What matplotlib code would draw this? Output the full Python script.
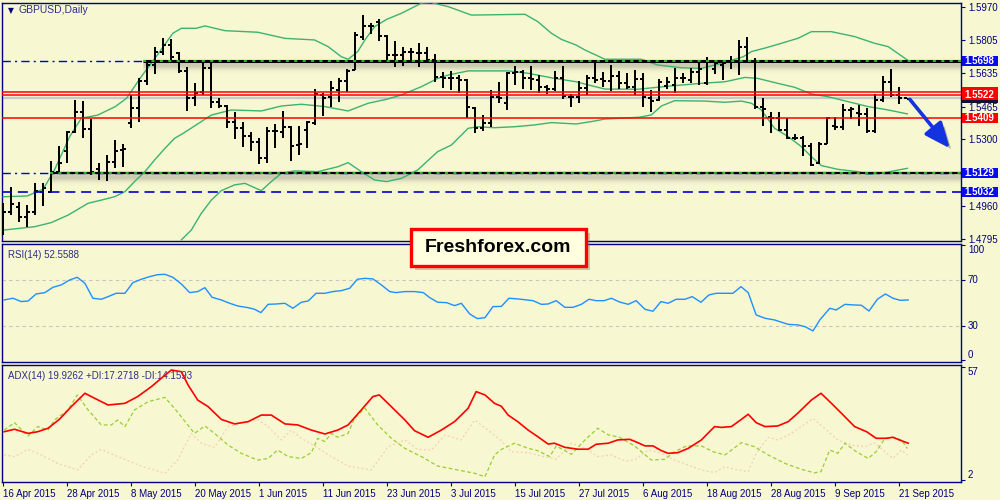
import numpy as np
import matplotlib
matplotlib.use('Agg')
import matplotlib.pyplot as plt
import matplotlib.transforms as mtrans
import matplotlib.patheffects as pe
from matplotlib.collections import LineCollection
from matplotlib.patches import Rectangle

plt.rcParams['font.family'] = ['Liberation Sans', 'DejaVu Sans']

# ---------------- data ----------------
symbol_title = 'GBPUSD,Daily'
date_labels = ['16 Apr 2015', '28 Apr 2015', '8 May 2015', '20 May 2015', '1 Jun 2015',
               '11 Jun 2015', '23 Jun 2015', '3 Jul 2015', '15 Jul 2015', '27 Jul 2015',
               '6 Aug 2015', '18 Aug 2015', '28 Aug 2015', '9 Sep 2015', '21 Sep 2015']
date_bars = [0, 8, 16, 24, 32, 40, 48, 56, 64, 72, 80, 88, 96, 104, 112]

opens = [1.4890, 1.4932, 1.4958, 1.4907, 1.4929, 1.5034, 1.5034, 1.5135, 1.5240, 1.5338,
         1.5436, 1.5351, 1.5147, 1.5130, 1.5182, 1.5245, 1.5380, 1.5456, 1.5595, 1.5676,
         1.5740, 1.5777, 1.5735, 1.5647, 1.5510, 1.5541, 1.5659, 1.5487, 1.5468, 1.5385,
         1.5355, 1.5316, 1.5287, 1.5203, 1.5343, 1.5335, 1.5363, 1.5270, 1.5346, 1.5380,
         1.5524, 1.5515, 1.5549, 1.5595, 1.5651, 1.5820, 1.5875, 1.5896, 1.5825, 1.5727,
         1.5727, 1.5740, 1.5735, 1.5735, 1.5701, 1.5613, 1.5612, 1.5608, 1.5600, 1.5456,
         1.5358, 1.5380, 1.5515, 1.5482, 1.5637, 1.5642, 1.5608, 1.5600, 1.5563, 1.5553,
         1.5608, 1.5515, 1.5515, 1.5558, 1.5608, 1.5603, 1.5597, 1.5620, 1.5583, 1.5563,
         1.5603, 1.5507, 1.5499, 1.5570, 1.5575, 1.5608, 1.5600, 1.5642, 1.5583, 1.5656,
         1.5676, 1.5693, 1.5693, 1.5769, 1.5690, 1.5465, 1.5411, 1.5406, 1.5346, 1.5308,
         1.5308, 1.5267, 1.5177, 1.5275, 1.5367, 1.5363, 1.5448, 1.5431, 1.5428, 1.5341,
         1.5499, 1.5588, 1.5524, 1.5507]
highs = [1.4975, 1.5056, 1.4983, 1.4966, 1.5079, 1.5076, 1.5189, 1.5267, 1.5341, 1.5499,
         1.5493, 1.5402, 1.5177, 1.5220, 1.5296, 1.5275, 1.5524, 1.5608, 1.5684, 1.5766,
         1.5811, 1.5806, 1.5740, 1.5668, 1.5583, 1.5693, 1.5693, 1.5507, 1.5473, 1.5436,
         1.5385, 1.5338, 1.5308, 1.5363, 1.5375, 1.5443, 1.5367, 1.5368, 1.5392, 1.5553,
         1.5532, 1.5595, 1.5612, 1.5654, 1.5842, 1.5929, 1.5891, 1.5909, 1.5828, 1.5798,
         1.5766, 1.5760, 1.5786, 1.5766, 1.5730, 1.5642, 1.5646, 1.5625, 1.5603, 1.5465,
         1.5422, 1.5549, 1.5591, 1.5642, 1.5673, 1.5651, 1.5671, 1.5625, 1.5575, 1.5646,
         1.5671, 1.5527, 1.5595, 1.5625, 1.5688, 1.5642, 1.5676, 1.5646, 1.5634, 1.5651,
         1.5637, 1.5549, 1.5605, 1.5617, 1.5659, 1.5637, 1.5662, 1.5698, 1.5715, 1.5701,
         1.5696, 1.5722, 1.5803, 1.5816, 1.5710, 1.5507, 1.5436, 1.5436, 1.5409, 1.5324,
         1.5316, 1.5282, 1.5287, 1.5411, 1.5411, 1.5478, 1.5465, 1.5473, 1.5456, 1.5527,
         1.5622, 1.5656, 1.5563, 1.5507]
lows = [1.4814, 1.4915, 1.4882, 1.4856, 1.4915, 1.4961, 1.5029, 1.5132, 1.5177, 1.5330,
        1.5304, 1.5118, 1.5093, 1.5090, 1.5155, 1.5160, 1.5355, 1.5389, 1.5575, 1.5630,
        1.5727, 1.5696, 1.5637, 1.5444, 1.5468, 1.5524, 1.5456, 1.5456, 1.5355, 1.5299,
        1.5259, 1.5240, 1.5172, 1.5177, 1.5253, 1.5308, 1.5191, 1.5220, 1.5257, 1.5372,
        1.5419, 1.5465, 1.5487, 1.5541, 1.5651, 1.5803, 1.5833, 1.5799, 1.5693, 1.5664,
        1.5673, 1.5698, 1.5664, 1.5690, 1.5588, 1.5561, 1.5549, 1.5532, 1.5409, 1.5330,
        1.5343, 1.5360, 1.5482, 1.5448, 1.5575, 1.5554, 1.5549, 1.5532, 1.5527, 1.5546,
        1.5504, 1.5465, 1.5485, 1.5524, 1.5586, 1.5566, 1.5546, 1.5553, 1.5553, 1.5524,
        1.5465, 1.5439, 1.5493, 1.5553, 1.5532, 1.5583, 1.5586, 1.5575, 1.5575, 1.5630,
        1.5600, 1.5654, 1.5625, 1.5690, 1.5451, 1.5368, 1.5333, 1.5341, 1.5299, 1.5296,
        1.5216, 1.5164, 1.5172, 1.5274, 1.5346, 1.5346, 1.5402, 1.5368, 1.5330, 1.5330,
        1.5490, 1.5515, 1.5478, 1.5502]
closes = [1.4932, 1.4971, 1.4907, 1.4929, 1.5039, 1.5051, 1.5135, 1.5181, 1.5338, 1.5436,
          1.5351, 1.5135, 1.5130, 1.5182, 1.5240, 1.5250, 1.5456, 1.5597, 1.5676, 1.5740,
          1.5777, 1.5718, 1.5647, 1.5507, 1.5536, 1.5659, 1.5487, 1.5468, 1.5385, 1.5355,
          1.5316, 1.5287, 1.5206, 1.5343, 1.5341, 1.5363, 1.5267, 1.5275, 1.5385, 1.5527,
          1.5510, 1.5558, 1.5595, 1.5647, 1.5828, 1.5874, 1.5875, 1.5825, 1.5727, 1.5727,
          1.5740, 1.5744, 1.5735, 1.5701, 1.5613, 1.5612, 1.5608, 1.5600, 1.5461, 1.5358,
          1.5380, 1.5515, 1.5507, 1.5637, 1.5639, 1.5608, 1.5605, 1.5563, 1.5553, 1.5608,
          1.5519, 1.5515, 1.5558, 1.5608, 1.5600, 1.5597, 1.5620, 1.5583, 1.5563, 1.5603,
          1.5512, 1.5495, 1.5591, 1.5591, 1.5608, 1.5608, 1.5642, 1.5656, 1.5693, 1.5684,
          1.5688, 1.5693, 1.5769, 1.5690, 1.5465, 1.5453, 1.5406, 1.5346, 1.5308, 1.5308,
          1.5267, 1.5169, 1.5275, 1.5406, 1.5363, 1.5448, 1.5451, 1.5428, 1.5341, 1.5499,
          1.5588, 1.5524, 1.5507, 1.5504]

# Bollinger bands (x = bar index)
bb_up_x = [0, 3, 5, 6.4, 8.3, 9.75, 11.8, 14, 15.4, 17.25, 19.1, 21.2, 22.25, 24.1, 25.2,
           27.7, 31.8, 35.2, 38.9, 40.6, 42.25, 43.1, 44.3, 45.2, 46.4, 47.9, 49.75, 52.25,
           53.5, 55.6, 58.5, 61.8, 65.2, 66.8, 68.5, 69.75, 71.6, 72.7, 75.2, 79.75, 81.8,
           84.75, 87.25, 89.75, 92.5, 93.5, 95.4, 97.25, 99.3, 101, 103.5, 106.4, 108.9,
           110.6, 111.8, 113]
bb_up = [1.5008, 1.5012, 1.5047, 1.5144, 1.5313, 1.5406, 1.5422, 1.5465, 1.5507, 1.5617,
         1.5718, 1.5837, 1.5862, 1.5862, 1.5874, 1.5850, 1.5842, 1.5811, 1.5803, 1.5769,
         1.5718, 1.5705, 1.5744, 1.5803, 1.5870, 1.5907, 1.5938, 1.5989, 1.5992, 1.5972,
         1.5929, 1.5931, 1.5933, 1.5896, 1.5837, 1.5806, 1.5777, 1.5752, 1.5705, 1.5705,
         1.5676, 1.5662, 1.5659, 1.5684, 1.5718, 1.5744, 1.5764, 1.5786, 1.5811, 1.5845,
         1.5845, 1.5820, 1.5786, 1.5769, 1.5735, 1.5701]
bb_mid_x = [0, 3.9, 6, 8.1, 10.6, 12.25, 13.9, 15.2, 16.4, 17.7, 18.9, 20.2, 21.4, 22.5,
            24.1, 26, 28.5, 32.25, 34.75, 37.25, 40.2, 43.1, 45.6, 47.9, 49.75, 52.25, 54.3,
            55.6, 58.1, 63.1, 65.6, 68.9, 71.6, 73.1, 75.2, 79.3, 83.5, 87.25, 90.2, 92.7,
            94.3, 96.8, 98.9, 101, 103.1, 105.6, 108.1, 110.6, 113]
bb_mid = [1.4839, 1.4856, 1.4877, 1.4915, 1.4975, 1.4991, 1.5008, 1.5034, 1.5085, 1.5135,
          1.5194, 1.5253, 1.5304, 1.5330, 1.5372, 1.5422, 1.5448, 1.5443, 1.5468, 1.5477,
          1.5465, 1.5443, 1.5482, 1.5502, 1.5524, 1.5566, 1.5608, 1.5625, 1.5646, 1.5646,
          1.5634, 1.5608, 1.5591, 1.5575, 1.5554, 1.5553, 1.5570, 1.5583, 1.5591, 1.5613,
          1.5608, 1.5583, 1.5563, 1.5529, 1.5515, 1.5490, 1.5465, 1.5448, 1.5428]
bb_low_x = [22.25, 23.5, 24.75, 26, 27.25, 28.9, 30.2, 32.25, 33.5, 34.75, 36.4, 39.3, 41.8,
            43.1, 44.75, 46.4, 47.9, 49.75, 51.8, 54.3, 56, 58.1, 59.3, 61.4, 63.9, 66.4,
            68.5, 71.6, 73.5, 75.2, 79.5, 81, 82.25, 83.9, 87.7, 90.2, 92.25, 93.5, 94.75,
            96.4, 98.1, 99.75, 101, 102.25, 104.3, 106.8, 108.1, 109.75, 111.4, 113]
bb_low = [1.4789, 1.4839, 1.4924, 1.4991, 1.5039, 1.5068, 1.5076, 1.5039, 1.5085, 1.5127,
          1.5139, 1.5135, 1.5160, 1.5181, 1.5135, 1.5093, 1.5085, 1.5101, 1.5144, 1.5237,
          1.5270, 1.5355, 1.5363, 1.5358, 1.5363, 1.5372, 1.5384, 1.5377, 1.5389, 1.5402,
          1.5411, 1.5423, 1.5468, 1.5495, 1.5493, 1.5487, 1.5493, 1.5482, 1.5448, 1.5355,
          1.5313, 1.5262, 1.5211, 1.5166, 1.5147, 1.5135, 1.5123, 1.5127, 1.5140, 1.5152]

# horizontal levels
resistance = 1.5698
support = 1.5129
lower_level = 1.5032
red_levels = [1.5539, 1.5522, 1.5409]
bid = 1.5507
resistance_from_bar = 17.5
support_from_bar = 5.8
arrow_from = (113.3, 1.5502)
arrow_to = (118.3, 1.5254)
price_ticks = [1.5970, 1.5805, 1.5635, 1.5465, 1.5300, 1.4960, 1.4795]

# RSI(14)
rsi_x = [0.1, 1.2, 2.25, 3.1, 4.1, 5.2, 6.2, 7.25, 8.3, 9.25, 10.2, 11.2, 12.25, 13.1, 14.1,
         15.2, 16.2, 17.25, 18.3, 19.3, 20.2, 21.2, 22.25, 23.3, 24.3, 25.2, 26.1, 27.25,
         28.3, 29.3, 30.6, 31.4, 32.2, 33.1, 34.1, 35.2, 36.2, 37.25, 38.1, 39.1, 40.2, 41.2,
         42.25, 43.3, 44.25, 45.2, 46.2, 47.25, 48.3, 49.1, 50.2, 51.4, 52.5, 53.3, 54.3,
         55.4, 56.4, 57.25, 58.3, 59.25, 60.2, 61.2, 62.25, 63.2, 64.3, 66.2, 67.25, 68.1,
         69.1, 70.2, 71.2, 72.25, 73.2, 74.1, 75.1, 76, 77, 78.1, 79.1, 80.2, 81.2, 82.2,
         83.1, 84.1, 85.2, 86.1, 87.2, 88.2, 89.1, 91.2, 92.2, 93.1, 94.1, 95.2, 96.4, 98.1,
         99.3, 100.2, 101.2, 102.05, 103.3, 104.1, 105.2, 106.2, 107.25, 108.2, 109.25,
         110.25, 111.2, 112.1, 113.1]
rsi = [52.6, 54.1, 51.2, 51.7, 57.8, 59.0, 63.6, 65.7, 70.0, 72.3, 67.1, 54.1, 53.2, 55.5,
       58.4, 58.4, 67.7, 70.6, 72.9, 74.6, 74.9, 72.3, 66.5, 59.0, 59.9, 63.3, 54.9, 52.6,
       49.7, 47.4, 45.9, 44.5, 41.6, 48.8, 49.1, 49.7, 45.4, 50.6, 51.7, 58.4, 58.4, 59.9,
       60.7, 62.8, 70.6, 71.4, 70.9, 65.7, 59.9, 59.0, 59.9, 59.9, 59.0, 54.6, 50.6, 50.3,
       47.7, 49.7, 40.4, 36.4, 37.2, 46.8, 47.0, 54.1, 53.5, 52.0, 48.8, 49.1, 52.0, 46.2,
       46.2, 48.8, 53.2, 52.0, 52.0, 54.1, 50.9, 48.8, 52.0, 44.5, 42.8, 51.2, 49.7, 53.2,
       53.2, 55.5, 50.6, 57.0, 58.4, 58.4, 64.2, 59.0, 39.6, 36.7, 35.2, 31.4, 30.9, 29.4,
       25.7, 35.2, 45.4, 43.9, 48.8, 48.3, 48.0, 43.0, 53.2, 57.8, 54.1, 52.3, 52.6]

# ADX(14), +DI, -DI
adx_x = [0.1, 1.4, 3.1, 4.3, 5.6, 7.0, 8.5, 10.2, 11.4, 13.1, 15.2, 16.8, 18.5, 19.75, 21,
         22.25, 23.1, 24.3, 25.6, 27.25, 28.9, 30.6, 32.25, 33.5, 35.2, 36.8, 38.5, 40.2,
         41.8, 43.1, 44.75, 46.2, 47.0, 48.5, 50.2, 51.4, 53.1, 54.75, 56.4, 58.1, 59.1, 60.2,
         61.4, 62.25, 63.1, 64.3, 65.6, 66.8, 68.1, 68.9, 70.2, 71.8, 73.1, 74.1, 75.6, 76.8,
         78.3, 79.3, 80.2, 81.2, 82.25, 83.1, 84.3, 85.6, 87.25, 88.9, 89.75, 91, 92.25, 93.1,
         94.1, 95.2, 96.8, 98.1, 99.3, 101, 102.2, 103.3, 104.75, 106.4, 107.9, 109.1, 110.4,
         111.2, 112.0, 113.1]
adx = [25.5, 26.7, 24.7, 25.5, 27.2, 31.5, 37.7, 44.2, 41.8, 38.5, 39.3, 42.6, 47.4, 51.5,
       55.5, 54.7, 48.2, 40.9, 37.7, 31.5, 29.3, 30.4, 33.6, 33.6, 29.3, 28.8, 26.3, 24.4,
       26.3, 28.8, 36.1, 42.6, 43.4, 37.7, 31.2, 26.0, 22.8, 26.3, 30.4, 36.9, 45.0, 43.4,
       39.3, 37.9, 33.6, 30.4, 26.3, 23.1, 19.5, 19.9, 17.9, 17.0, 17.0, 19.4, 19.9, 21.5,
       21.8, 20.2, 18.6, 18.6, 16.3, 15.0, 15.3, 17.4, 21.5, 28.0, 27.6, 28.0, 31.5, 34.0,
       29.9, 28.0, 28.3, 30.4, 34.5, 40.9, 44.2, 40.1, 34.5, 28.0, 25.5, 22.3, 22.3, 22.8,
       21.5, 19.9]
pdi_x = [0.1, 1.4, 3.1, 4.3, 5.6, 6.4, 8.1, 9.25, 10.6, 12.25, 13.5, 14.3, 15.2, 16.4, 18.1,
         20.2, 21.4, 23.9, 25.2, 26.4, 28.1, 29.75, 31.8, 33.1, 34.3, 35.6, 37.25, 38.5, 39.3,
         40.2, 41.0, 41.8, 43.1, 43.9, 45.2, 46.8, 48.5, 50.2, 52.25, 54.3, 56.8, 58.9, 60.2,
         61.4, 62.25, 63.9, 65.6, 66.8, 68.3, 69.1, 71, 72.7, 74.3, 75.6, 77.0, 78.9, 81.0,
         82.7, 83.9, 85.4, 87.25, 88.7, 90.2, 92.25, 93.9, 95.6, 97.7, 99.75, 101.4, 102.2,
         103.3, 104.3, 105.2, 106.6, 108.1, 109.1, 110.2, 111.2, 112.25, 113]
pdi = [26.3, 29.9, 23.4, 28.0, 26.3, 31.2, 36.1, 43.4, 36.1, 28.8, 28.8, 31.2, 28.0, 36.1,
       40.1, 42.2, 36.9, 24.7, 28.3, 24.7, 19.0, 15.0, 11.7, 12.5, 16.6, 13.4, 12.5, 15.3,
       22.3, 20.7, 24.7, 22.8, 24.7, 32.0, 36.9, 28.8, 22.3, 17.4, 13.4, 8.8, 6.9, 5.3, 3.6,
       14.2, 16.9, 19.9, 17.4, 16.3, 13.4, 18.6, 14.5, 21.5, 27.2, 24.0, 22.8, 18.6, 11.7,
       12.1, 15.8, 18.6, 18.6, 15.8, 14.2, 20.2, 18.2, 14.2, 10.1, 7.2, 5.5, 6.1, 16.6, 15.0,
       19.9, 15.8, 12.5, 15.8, 22.3, 22.8, 21.5, 17.3]
mdi_x = [0.1, 1.4, 3.1, 4.75, 6.8, 9.3, 11.0, 12.25, 14.3, 17.25, 20.2, 21.8, 23.5, 24.75,
         26.4, 28.1, 29.75, 31.8, 33.1, 34.75, 36.0, 37.25, 38.9, 41.0, 43.1, 46.0, 48.1, 50.2,
         51.8, 53.5, 55.2, 57.25, 58.9, 60.6, 62.25, 63.5, 65.6, 67.25, 69.1, 71, 72.7, 74.3,
         76, 77.7, 78.9, 80.6, 82.25, 83.9, 85.6, 87.25, 88.9, 90.2, 91.4, 93.1, 94.1, 95.6,
         96.8, 98.5, 99.75, 101.2, 102.9, 104.3, 106.0, 107.7, 108.9, 110.2, 111.2, 112.25, 113]
mdi = [14.2, 13.4, 16.9, 14.2, 10.1, 6.9, 14.2, 16.9, 13.4, 8.8, 5.3, 11.7, 24.7, 19.9, 17.9,
       28.0, 29.6, 31.5, 28.0, 21.5, 26.3, 22.3, 18.6, 13.4, 8.8, 6.9, 18.2, 21.5, 16.9, 16.6,
       23.9, 21.5, 31.2, 26.3, 21.1, 15.8, 15.3, 13.7, 12.1, 19.9, 17.4, 13.4, 14.2, 11.3,
       11.7, 16.6, 15.0, 11.7, 9.3, 6.9, 5.6, 8.5, 7.2, 6.1, 15.0, 22.8, 21.5, 24.7, 28.0,
       32.0, 26.3, 21.5, 19.0, 18.2, 20.2, 15.8, 12.5, 16.6, 14.2]

rsi_title = 'RSI(14) 52.5588'
adx_title = 'ADX(14) 19.9262 +DI:17.2718 -DI:14.1593'
logo_text = 'Freshforex.com'

# ---------------- style ----------------
BG = '#F7F7D2'
NAVY = '#000080'
TXT = '#2E2E8A'
GREEN_BB = '#3CB371'

fig = plt.figure(figsize=(10, 5), dpi=100, facecolor=BG)


def frac(x0, y0, x1, y1):
    return [x0 / 1000, 1 - y1 / 500, (x1 - x0) / 1000, (y1 - y0) / 500]


ax1 = fig.add_axes(frac(2, 2.5, 961, 240.5))
ax2 = fig.add_axes(frac(2, 243.5, 961, 362.3))
ax3 = fig.add_axes(frac(2, 364.7, 961, 482.3))
XL = (-0.16, 119.7)
for ax in (ax1, ax2, ax3):
    ax.set_facecolor(BG)
    ax.set_xlim(*XL)
    for s in ax.spines.values():
        s.set_color(NAVY)
        s.set_linewidth(1.0)
    ax.yaxis.tick_right()
    ax.tick_params(axis='y', length=3, width=0.8, color=NAVY, labelcolor=NAVY,
                   labelsize=7, pad=2)

# ---------------- main panel ----------------
ymin, ymax = 1.47862, 1.59928
ax1.set_ylim(ymin, ymax)
px = (ymax - ymin) / 238.0
ax1.set_xticks([])
ax1.set_yticks(price_ticks)
ax1.set_yticklabels(['%.4f' % v for v in price_ticks])

n = len(opens)
tick = 0.375
segs = []
for i in range(n):
    segs.append([(i, lows[i]), (i, highs[i])])
    segs.append([(i - tick, opens[i]), (i, opens[i])])
    segs.append([(i, closes[i]), (i + tick, closes[i])])
ax1.add_collection(LineCollection(segs, colors='black', linewidths=1.2,
                                  antialiaseds=False, capstyle='butt', zorder=4))

for xs, ys in ((bb_up_x, bb_up), (bb_mid_x, bb_mid), (bb_low_x, bb_low)):
    ax1.plot(xs, ys, color=GREEN_BB, lw=1.0, zorder=3)


def shadow_band(x0, x1, level):
    for k in range(-2, 14):
        a = 0.2 * np.exp(-((k - 3.5) / 4.2) ** 2)
        ax1.plot([x0, x1], [level - k * px] * 2, color='#505050', alpha=a, lw=1.0,
                 solid_capstyle='butt', zorder=2)


# gray bid line
ax1.axhline(bid, color='#C8C8C8', lw=1.6, zorder=2)
# blue horizontal lines
ax1.axhline(resistance, color='#0000CD', lw=1.0, ls=(0, (6, 3, 1.5, 3)), zorder=5)
ax1.axhline(support, color='#0000CD', lw=1.0, ls=(0, (6, 3, 1.5, 3)), zorder=5)
ax1.axhline(lower_level, color='#0000CD', lw=1.2, ls=(0, (6, 3.5)), zorder=5)
for lv in red_levels:
    ax1.axhline(lv, color='#FF0000', lw=1.1, zorder=5)

# black trend lines with green dots and shadow
for start, lv, lw in ((resistance_from_bar, resistance, 2.2), (support_from_bar, support, 1.6)):
    shadow_band(start, XL[1], lv)
    ax1.plot([start, XL[1]], [lv, lv], color='black', lw=lw, solid_capstyle='butt', zorder=6)
    ax1.plot([start, XL[1]], [lv - 0.4 * px, lv - 0.4 * px], color='#33EE33', lw=1.1,
             ls=(0, (2, 3.5)), zorder=7)

# arrow
ann = ax1.annotate('', xy=arrow_to, xytext=arrow_from,
                   arrowprops=dict(arrowstyle='-|>,head_length=1.4,head_width=0.6',
                                   color='#1433E0', lw=2.6, mutation_scale=11,
                                   shrinkA=0, shrinkB=0), zorder=8)
ann.arrow_patch.set_path_effects([pe.withSimplePatchShadow(offset=(3, -3), shadow_rgbFace='#606060',
                                                           alpha=0.45)])

# right axis price boxes
tr = mtrans.blended_transform_factory(fig.transFigure, ax1.transData)
box_h = 10.2 * px


def price_box(p, label, face, z):
    fig.add_artist(Rectangle((0.9615, p - box_h / 2), 0.0365, box_h, transform=tr,
                             facecolor=face, edgecolor='none', zorder=z))
    if label:
        fig.text(0.9795, p, label, transform=tr, ha='center', va='center', fontsize=7,
                 fontweight='bold', color='white', zorder=z + 0.5)


price_box(resistance, '%.4f' % resistance, '#0A0AF0', 20)
price_box(red_levels[0], '', '#FF0000', 20)          # mostly hidden behind the 1.5522 label
price_box(bid, '', '#101030', 21)                    # bid label, hidden
price_box(red_levels[1], '%.4f' % red_levels[1], '#FF0000', 22)
price_box(red_levels[2], '%.4f' % red_levels[2], '#FF0000', 20)
price_box(support, '%.4f' % support, '#0A0AF0', 20)
price_box(lower_level, '%.4f' % lower_level, '#0A0AF0', 20)

ax1.text(0.0065, 0.968, '\u25BC', transform=ax1.transAxes, fontsize=5.5, color=NAVY,
         family='DejaVu Sans', va='center', ha='left')
ax1.text(0.017, 0.968, symbol_title, transform=ax1.transAxes, fontsize=7.5, color=TXT,
         va='center', ha='left')

# ---------------- RSI panel ----------------
ax2.set_ylim(-1.6, 101.7)
ax2.set_xticks([])
ax2.set_yticks([100, 70, 30, 0])
ax2.set_yticklabels(['100', '70', '30', '0'])
for t, va in zip(ax2.yaxis.get_major_ticks(), ['top', 'center', 'center', 'bottom']):
    t.label2.set_va(va)
for lv in (70, 30):
    ax2.axhline(lv, color='#C4C4C4', lw=0.8, ls=(0, (3, 3)), zorder=1)
ax2.plot(rsi_x, rsi, color='#1E90FF', lw=1.0, zorder=3)
ax2.text(0.0065, 0.9, rsi_title, transform=ax2.transAxes, fontsize=7, color=TXT,
         va='center', ha='left')

# ---------------- ADX panel ----------------
ax3.set_ylim(0.9, 58.1)
ax3.set_yticks([57, 2])
ax3.set_yticklabels(['57', '2'])
for t, va in zip(ax3.yaxis.get_major_ticks(), ['top', 'bottom']):
    t.label2.set_va(va)
ax3.plot(mdi_x, mdi, color='#F5CFB0', lw=0.9, ls=(0, (1.5, 2)), zorder=2)
ax3.plot(pdi_x, pdi, color='#9ACD32', lw=0.9, ls=(0, (3, 2)), zorder=3)
ax3.plot(adx_x, adx, color='#FF0000', lw=1.2, zorder=4)
ax3.text(0.0065, 0.9, adx_title, transform=ax3.transAxes, fontsize=7, color=TXT,
         va='center', ha='left')
ax3.set_xticks(date_bars)
ax3.set_xticklabels(date_labels, ha='left')
ax3.tick_params(axis='x', length=3, width=0.8, color=NAVY, labelcolor=NAVY, labelsize=7, pad=2)

# ---------------- logo ----------------
fig.add_artist(Rectangle((0.415, 0.460), 0.175, 0.074, transform=fig.transFigure,
                         facecolor='#707070', alpha=0.35, edgecolor='none', zorder=30))
fig.add_artist(Rectangle((0.411, 0.468), 0.175, 0.074, transform=fig.transFigure,
                         facecolor='#FFFFE0', edgecolor='#FF0000', lw=2.4, zorder=31))
fig.text(0.4985, 0.5045, logo_text, ha='center', va='center', fontsize=14,
         fontweight='bold', color='black', zorder=32)

fig.savefig('out.png', dpi=100, facecolor=BG)
